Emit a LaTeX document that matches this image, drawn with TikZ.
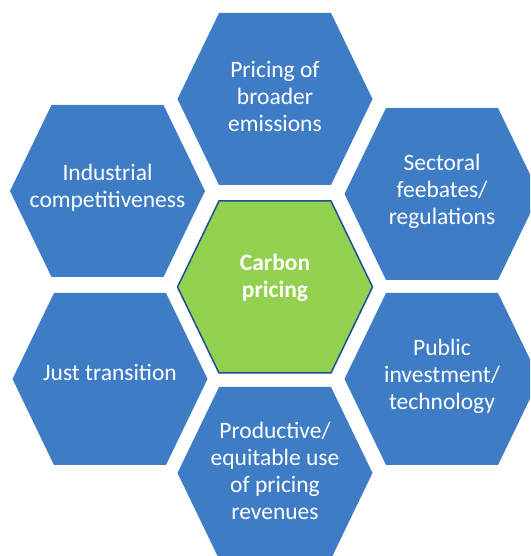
\documentclass[tikz,border=0pt]{standalone}
\usepackage{fontspec}
\setmainfont{Carlito}

\definecolor{hexblue}{RGB}{62,125,198}
\definecolor{hexgreen}{RGB}{146,208,80}
\definecolor{hexedge}{RGB}{31,78,153}

\tikzset{
  hexcell/.pic={\path[pic actions] (-97.5,0) -- (-56,86) -- (56,86) -- (97.5,0) -- (56,-86) -- (-56,-86) -- cycle;},
  celltext/.style={text=white, align=center, font=\fontsize{23.5}{27}\selectfont}
}

\begin{document}
\begin{tikzpicture}[x=1pt, y=1pt]
        \useasboundingbox (0,0) rectangle (530,556);
        \clip (0,0) rectangle (530,556);

        % Outer ring of blue cells
        \pic[fill=hexblue] at (275,457) {hexcell};
        \pic[fill=hexblue] at (107.5,365) {hexcell};
        \pic[fill=hexblue] at (442,362) {hexcell};
        \pic[fill=hexblue] at (110,177) {hexcell};
        \pic[fill=hexblue] at (442,177) {hexcell};
        \pic[fill=hexblue] at (275,83) {hexcell};

        % Centre cell, green with a dark edge
        \pic[fill=hexgreen, draw=hexedge, line width=1.5pt] at (275,269) {hexcell};

        % Labels
        \node[celltext] (broader) at (275,459) {Pricing of\\broader\\emissions};
        \node[celltext] (industrial) at (107.5,368) {Industrial\\competitiveness};
        \node[celltext] (sectoral) at (442,365) {Sectoral\\feebates/\\regulations};
        \node[celltext, font=\fontsize{23.5}{27}\selectfont\bfseries] (carbon) at (275,278) {Carbon\\pricing};
        \node[celltext] (just) at (110,184) {Just transition};
        \node[celltext] (public) at (442,180) {Public\\investment/\\technology};
        \node[celltext] (revenues) at (275,85) {Productive/\\equitable use\\of pricing\\revenues};
    \end{tikzpicture}
\end{document}
